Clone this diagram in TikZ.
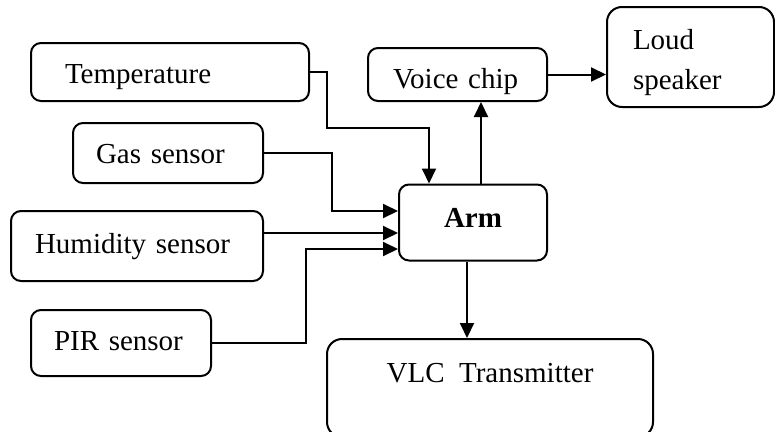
\documentclass[tikz,border=0pt]{standalone}
\usepackage{fontspec}
\setmainfont{Liberation Serif}
\usetikzlibrary{arrows.meta}

\tikzset{
	box/.style={draw, line width=2pt, rounded corners=10pt, inner ysep=0pt,
		text height=20pt, text depth=6pt, font=\fontsize{29}{40}\selectfont},
	lbox/.style={box, align=left},
	arr/.style={line width=2pt, -{Triangle[length=15pt,width=14pt]}},
}

\begin{document}
\begin{tikzpicture}[x=1pt,y=-1pt]
		\useasboundingbox (0,0) rectangle (775,431);
		% sensors
		\node[lbox, text width=210pt, inner xsep=34pt, minimum height=58pt, text height=28pt] (temp) at (170,72) {Temperature};
		\node[lbox, text width=144pt, inner xsep=23pt, minimum height=60pt, text height=26pt] (gas) at (168,153) {Gas sensor};
		\node[lbox, text width=204pt, inner xsep=24pt, minimum height=70pt] (hum) at (137,246) {Humidity sensor};
		\node[lbox, text width=134pt, inner xsep=23pt, minimum height=66pt] (pir) at (121,343) {PIR sensor};
		% controller and outputs
		\node[box, minimum width=148pt, minimum height=76pt, text depth=11pt,
			font=\fontsize{29}{40}\selectfont\bfseries] (arm) at (473,222.5) {Arm};
		\node[lbox, text width=129pt, inner xsep=25pt, minimum height=53pt, text height=34pt] (voice) at (457.5,74.5) {Voice chip};
		\node[lbox, text width=115pt, inner xsep=26pt, minimum height=100pt, text depth=36pt,
			rounded corners=15pt] (loud) at (690.5,57) {Loud\\speaker};
		\node[box, minimum width=326pt, minimum height=98pt, text depth=32pt,
			rounded corners=15pt] (vlc) at (490,388) {VLC\ \ Transmitter};
		% connections
		\draw[arr] (temp.east) -| ++(17,56) -| ([xshift=-44pt]arm.north);
		\draw[arr] (gas.east) -| ++(68,58) -- ([yshift=11.5pt]arm.west);
		\draw[arr] ([yshift=13pt]hum.east) -- ([yshift=13pt]hum.east -| arm.west);
		\draw[arr] (pir.east) -| ++(94,-94) -- ([yshift=-26.5pt]arm.west);
		\draw[arr] ([xshift=8pt]arm.north) -- ([xshift=8pt]arm.north |- voice.south);
		\draw[arr] (voice.east) -- (voice.east -| loud.west);
		\draw[arr] ([xshift=-6pt]arm.south) -- ([xshift=-6pt]arm.south |- vlc.north);
	\end{tikzpicture}
\end{document}
